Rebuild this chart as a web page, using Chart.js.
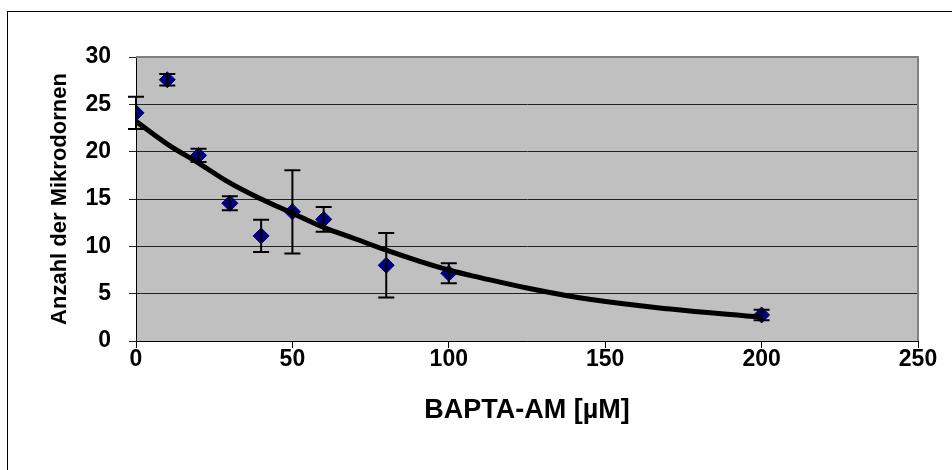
<!DOCTYPE html>
<html>
<head>
<meta charset="utf-8">
<script src="https://cdn.jsdelivr.net/npm/chart.js@4"></script>
<style>
  body { margin: 0; background: #fff; }
  #wrap { position: relative; width: 952px; height: 470px; }
  #frame { position: absolute; left: 7px; top: 11px; width: 960px; height: 480px; border: 1px solid #000; box-sizing: border-box; }
  canvas { position: absolute; left: 0; top: 0; }
</style>
</head>
<body>
<div id="wrap">
  <div id="frame"></div>
  <canvas id="chart" width="952" height="470"></canvas>
</div>
<script>
// BAPTA-AM dose (µM), mean count and error
const doses  = [0, 10, 20, 30, 40, 50, 60, 80, 100, 200];
const means  = [24.1, 27.6, 19.6, 14.55, 11.1, 13.65, 12.85, 8.0, 7.15, 2.75];
const errors = [1.7, 0.6, 0.7, 0.75, 1.7, 4.4, 1.3, 3.4, 1.05, 0.55];

// trendline
const trendX = [0, 10, 20, 30, 40, 50, 60, 70, 80, 90, 100, 110, 125, 145, 170, 200];
const trendY = [23.2, 20.8, 18.8, 16.7, 15.0, 13.5, 12.0, 10.8, 9.6, 8.5, 7.5, 6.7, 5.6, 4.4, 3.4, 2.5];

const family = '"Liberation Sans", Arial, sans-serif';

const plotBg = {
  id: 'plotBg',
  beforeDraw(chart) {
    const { ctx, chartArea: a } = chart;
    ctx.save();
    ctx.fillStyle = '#c0c0c0';
    ctx.fillRect(a.left, a.top, a.right - a.left, a.bottom - a.top);
    ctx.restore();
  },
  afterDraw(chart) {
    const { ctx, chartArea: a } = chart;
    ctx.save();
    ctx.strokeStyle = '#808080';
    ctx.lineWidth = 2;
    ctx.beginPath();
    ctx.moveTo(a.left, a.top);
    ctx.lineTo(a.right, a.top);
    ctx.lineTo(a.right, a.bottom);
    ctx.stroke();
    ctx.restore();
  }
};

const errorBars = {
  id: 'errorBars',
  afterDatasetDraw(chart, args) {
    if (args.index !== 0) return;
    const { ctx, scales: { x, y } } = chart;
    ctx.save();
    ctx.strokeStyle = '#000';
    ctx.lineWidth = 2;
    doses.forEach((d, i) => {
      const px = x.getPixelForValue(d);
      const top = y.getPixelForValue(means[i] + errors[i]);
      const bot = y.getPixelForValue(means[i] - errors[i]);
      ctx.beginPath();
      ctx.moveTo(px, top); ctx.lineTo(px, bot);
      ctx.moveTo(px - 8, top); ctx.lineTo(px + 8, top);
      ctx.moveTo(px - 8, bot); ctx.lineTo(px + 8, bot);
      ctx.stroke();
    });
    ctx.restore();
  }
};

new Chart(document.getElementById('chart'), {
  type: 'scatter',
  data: {
    datasets: [{
      label: 'Mikrodornen',
      data: doses.map((d, i) => ({ x: d, y: means[i] })),
      pointStyle: 'rectRot',
      pointRadius: 8,
      pointHoverRadius: 8,
      backgroundColor: '#000080',
      borderColor: '#000080',
      borderWidth: 1,
      order: 1
    }, {
      label: 'Trend',
      data: trendX.map((d, i) => ({ x: d, y: trendY[i] })),
      showLine: true,
      pointRadius: 0,
      borderColor: '#000',
      borderWidth: 5,
      tension: 0.4,
      order: 0
    }]
  },
  options: {
    responsive: false,
    animation: false,
    events: [],
    layout: { padding: { left: 0, top: 57, right: 34, bottom: 0 } },
    plugins: { legend: { display: false }, tooltip: { enabled: false } },
    scales: {
      x: {
        type: 'linear',
        min: 0, max: 250,
        afterFit(s) { s.height = 129; },
        ticks: { stepSize: 50, padding: 0, color: '#000', font: { family, weight: 'bold', size: 23, lineHeight: 1 } },
        grid: { drawOnChartArea: false, drawTicks: true, tickLength: 7, color: '#000' },
        border: { color: '#000', width: 1 },
        title: { display: true, text: 'BAPTA-AM [µM]', color: '#000', font: { family, weight: 'bold', size: 27, lineHeight: 1 }, padding: { top: 0, bottom: 46 } }
      },
      y: {
        min: 0, max: 30,
        afterFit(s) { s.width = 136; },
        ticks: { stepSize: 5, padding: 18, color: '#000', font: { family, weight: 'bold', size: 23, lineHeight: 1 } },
        grid: { color: '#222', lineWidth: 1, drawTicks: true, tickLength: 7 },
        border: { color: '#000', width: 1 },
        title: { display: true, text: 'Anzahl der Mikrodornen', color: '#000', font: { family, weight: 'bold', size: 22, lineHeight: 1 }, padding: { top: 49, bottom: 0 } }
      }
    }
  },
  plugins: [plotBg, errorBars]
});
</script>
</body>
</html>
